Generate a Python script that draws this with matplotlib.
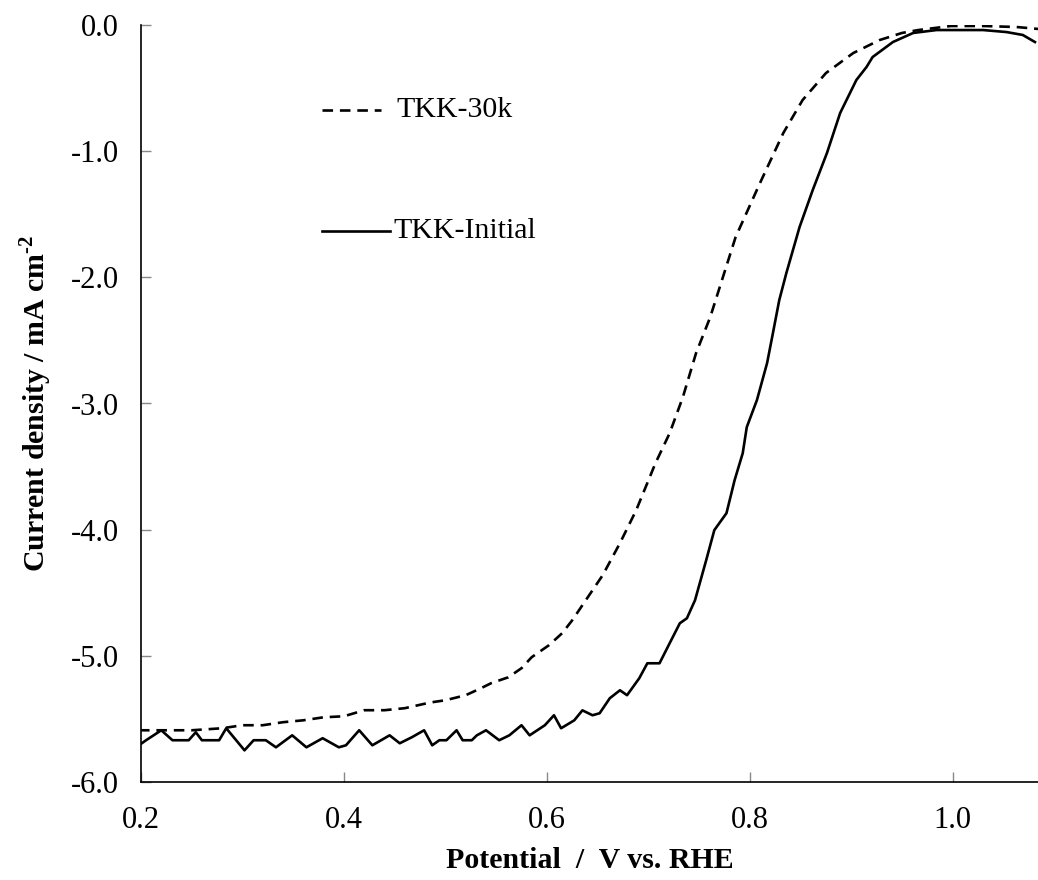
import matplotlib
matplotlib.use("Agg")
import matplotlib.pyplot as plt

plt.rcParams['font.family'] = ['Liberation Serif', 'DejaVu Serif']
plt.rcParams['mathtext.fontset'] = 'custom'
plt.rcParams['mathtext.rm'] = 'Liberation Serif:bold'
plt.rcParams['mathtext.bf'] = 'Liberation Serif:bold'

# TKK-Initial (solid)
initial_v = [0.198, 0.205, 0.220, 0.231, 0.247, 0.254, 0.260, 0.277, 0.284, 0.302,
             0.311, 0.323, 0.333, 0.349, 0.363, 0.379, 0.395, 0.402, 0.415, 0.428,
             0.445, 0.455, 0.467, 0.479, 0.487, 0.494, 0.501, 0.511, 0.517, 0.526,
             0.531, 0.540, 0.553, 0.563, 0.575, 0.583, 0.598, 0.607, 0.614, 0.627,
             0.635, 0.645, 0.652, 0.662, 0.672, 0.679, 0.691, 0.699, 0.711, 0.721,
             0.731, 0.738, 0.746, 0.757, 0.765, 0.777, 0.785, 0.793, 0.797, 0.807,
             0.817, 0.822, 0.829, 0.836, 0.849, 0.862, 0.876, 0.889, 0.905, 0.915,
             0.921, 0.941, 0.961, 0.984, 1.030, 1.053, 1.069, 1.081]
initial_j = [-5.709, -5.669, -5.590, -5.669, -5.669, -5.606, -5.669, -5.669, -5.574, -5.749,
             -5.669, -5.669, -5.725, -5.630, -5.725, -5.653, -5.725, -5.709, -5.590, -5.709,
             -5.630, -5.693, -5.645, -5.590, -5.709, -5.669, -5.669, -5.590, -5.669, -5.669,
             -5.630, -5.590, -5.669, -5.630, -5.550, -5.630, -5.550, -5.471, -5.574, -5.511,
             -5.432, -5.471, -5.455, -5.336, -5.273, -5.312, -5.178, -5.059, -5.059, -4.900,
             -4.742, -4.702, -4.559, -4.242, -4.004, -3.869, -3.608, -3.394, -3.187, -2.973,
             -2.680, -2.474, -2.181, -1.966, -1.602, -1.308, -1.015, -0.698, -0.436, -0.333,
             -0.254, -0.135, -0.063, -0.040, -0.040, -0.056, -0.079, -0.135]

# TKK-30k (dashed)
k30_v = [0.198, 0.220, 0.250, 0.280, 0.300, 0.320, 0.340, 0.360, 0.380, 0.400,
         0.420, 0.440, 0.460, 0.485, 0.500, 0.520, 0.535, 0.545, 0.562, 0.575,
         0.585, 0.602, 0.615, 0.625, 0.637, 0.655, 0.672, 0.688, 0.707, 0.721,
         0.734, 0.747, 0.761, 0.786, 0.810, 0.833, 0.852, 0.875, 0.902, 0.928,
         0.950, 0.966, 0.998, 1.030, 1.063, 1.085]
k30_j = [-5.590, -5.590, -5.590, -5.574, -5.550, -5.550, -5.526, -5.511, -5.487, -5.479,
         -5.431, -5.431, -5.415, -5.370, -5.352, -5.312, -5.257, -5.217, -5.170, -5.098,
         -5.011, -4.916, -4.821, -4.718, -4.575, -4.361, -4.107, -3.846, -3.473, -3.235,
         -2.950, -2.601, -2.315, -1.681, -1.253, -0.856, -0.595, -0.381, -0.222, -0.119,
         -0.063, -0.040, -0.008, -0.008, -0.016, -0.032]

x_ticks = [0.2, 0.4, 0.6, 0.8, 1.0]
y_ticks = [0.0, -1.0, -2.0, -3.0, -4.0, -5.0, -6.0]

fig = plt.figure(figsize=(10.38, 8.8), dpi=100)
ax = fig.add_axes([141/1038, 1-782/880, 1-141/1038, (782-25)/880])

ax.plot(k30_v, k30_j, color='black', lw=1.9, linestyle=(0, (4, 2.6)))
ax.plot(initial_v, initial_j, color='black', lw=1.9, solid_joinstyle='round')

ax.set_xlim(0.2, 1.084)
ax.set_ylim(-6.0, 0.0)
ax.set_xticks(x_ticks)
ax.set_xticklabels([f"{t:.1f}" for t in x_ticks])
ax.set_yticks(y_ticks)
ax.set_yticklabels([f"{t:.1f}" for t in y_ticks])

for s in ['top', 'right']:
    ax.spines[s].set_visible(False)
for s in ['left', 'bottom']:
    ax.spines[s].set_linewidth(1.2)
    ax.spines[s].set_color('black')

ax.tick_params(axis='both', direction='in', length=7, width=1, color='#888888',
               labelsize=22)
ax.tick_params(axis='x', pad=17)
ax.tick_params(axis='y', pad=16)

ax.set_xlabel('Potential  /  V vs. RHE', fontsize=21.5, fontweight='bold', labelpad=9)
ax.set_ylabel(r'Current density / mA cm$^{\text{-}2}$', fontsize=21.5,
              fontweight='bold', labelpad=12)

# in-plot key
ax.plot([0.378, 0.437], [-0.67, -0.67], color='black', lw=1.9, linestyle=(0, (4, 2.6)),
        clip_on=False)
ax.text(0.452, -0.67, 'TKK-30k', fontsize=21.5, va='center', ha='left')
ax.plot([0.378, 0.445], [-1.63, -1.63], color='black', lw=1.9)
ax.text(0.449, -1.63, 'TKK-Initial', fontsize=21.5, va='center', ha='left')

fig.savefig('out.png', dpi=100)
